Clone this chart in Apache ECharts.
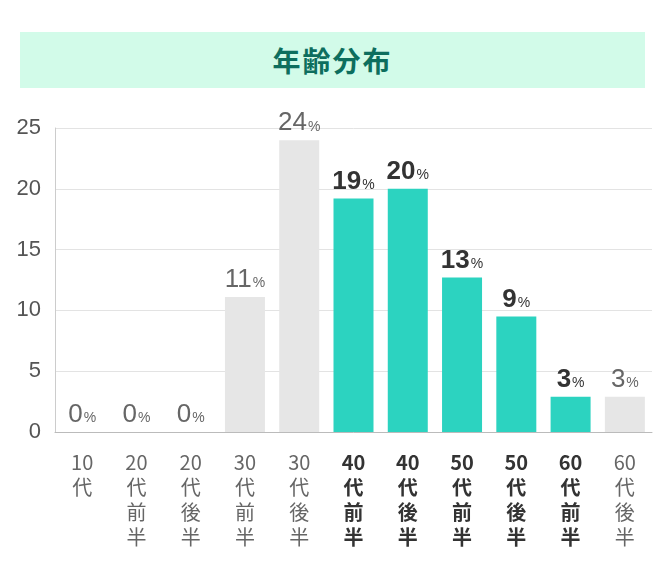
<!DOCTYPE html>
<html lang="ja">
<head>
<meta charset="UTF-8">
<script src="https://cdn.jsdelivr.net/npm/echarts@6/dist/echarts.min.js"></script>
<title>年齢分布</title>
<style>
  body { margin: 0; background: #fff; }
  #title { position: absolute; left: 20px; top: 32px; width: 625px; height: 56px; background: #d2fbe9;
    color: #0d6e5e; font: bold 28px "Noto Sans CJK JP"; text-align: center; line-height: 56px; letter-spacing: 2px; }
</style>
</head>
<body>
<div id="title">年齢分布</div>
<div id="chart" style="width:666px;height:578px;"></div>
<script>
var categories = ['10\n代', '20\n代\n前\n半', '20\n代\n後\n半', '30\n代\n前\n半', '30\n代\n後\n半', '40\n代\n前\n半',
                  '40\n代\n後\n半', '50\n代\n前\n半', '50\n代\n後\n半', '60\n代\n前\n半', '60\n代\n後\n半'];
var values = [0, 0, 0, 11.1, 24, 19.2, 20, 12.7, 9.5, 2.9, 2.9];
var labels = [0, 0, 0, 11, 24, 19, 20, 13, 9, 3, 3];
var highlighted = [false, false, false, false, false, true, true, true, true, true, false];

var chart = echarts.init(document.getElementById('chart'));
chart.setOption({
    animation: false,
    grid: { left: 55, right: 14, top: 128, bottom: 146 },
    xAxis: {
        type: 'category',
        data: categories,
        axisLine: { lineStyle: { color: '#bbb' } },
        axisTick: { show: false },
        axisLabel: {
            interval: 0, margin: 18, lineHeight: 25, fontSize: 20, fontFamily: 'Noto Sans CJK JP',
            formatter: function (v, i) { return highlighted[i] ? '{b|' + v + '}' : '{n|' + v + '}'; },
            rich: {
                b: { fontWeight: 'bold', color: '#333', fontSize: 20, lineHeight: 25 },
                n: { color: '#666', fontSize: 20, lineHeight: 25 }
            }
        }
    },
    yAxis: {
        type: 'value', min: 0, max: 25, interval: 5,
        axisLine: { show: true, lineStyle: { color: '#ccc' } },
        axisLabel: { color: '#555', fontSize: 22, fontFamily: 'Liberation Sans', margin: 14 },
        splitLine: { lineStyle: { color: '#e3e3e3' } }
    },
    series: [{
        type: 'bar',
        barWidth: 40,
        data: values.map(function (v, i) {
            var hl = highlighted[i];
            return {
                value: v,
                itemStyle: { color: hl ? '#2cd3c0' : '#e6e6e6' },
                label: {
                    show: true, position: 'top', distance: 4,
                    formatter: '{a|' + labels[i] + '}{p|%}',
                    rich: {
                        a: { fontSize: 26, fontWeight: hl ? 'bold' : 'normal', color: hl ? '#333' : '#666', fontFamily: 'Liberation Sans' },
                        p: { fontSize: 14, color: hl ? '#333' : '#666', padding: [7, 0, 0, 1], fontFamily: 'Liberation Sans' }
                    }
                }
            };
        })
    }]
});
</script>
</body>
</html>
